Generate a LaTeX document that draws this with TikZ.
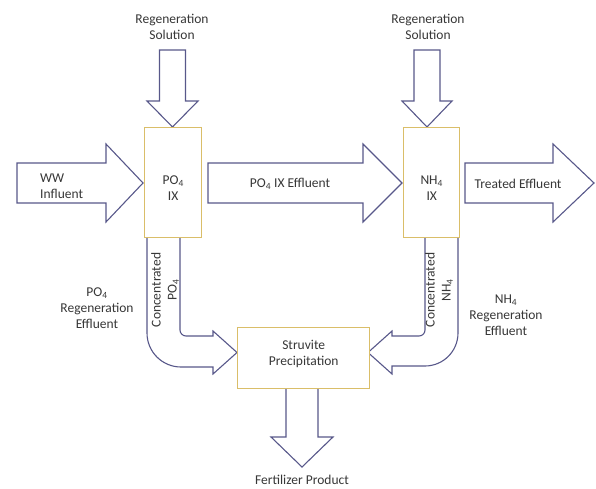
\documentclass[tikz,border=0pt]{standalone}
\usepackage{fontspec}
\setmainfont{Carlito}
\begin{document}
\begin{tikzpicture}[x=1pt,y=-1pt]
\definecolor{arrowc}{RGB}{88,88,138}
\definecolor{boxc}{RGB}{218,190,105}
\definecolor{txtc}{RGB}{55,55,55}
\tikzset{
  flow/.style={draw=arrowc,fill=white,line width=1.1pt,line join=miter},
  unit/.style={draw=boxc,fill=white,line width=1.4pt},
  lbl/.style={text=txtc,font=\fontsize{13.5}{16}\selectfont,align=center,inner sep=0pt},
}
\useasboundingbox (0,0) rectangle (596,489);
\fill[white] (0,0) rectangle (596,489);

% arrows
\path[flow] (159.5,50) -- (185.5,50) -- (185.5,101) -- (198,101) -- (172.5,127) -- (147,101) -- (159.5,101) -- cycle;
\path[flow] (414,50) -- (440,50) -- (440,101) -- (452,101) -- (427,127) -- (402,101) -- (414,101) -- cycle;
\path[flow] (17,163) -- (106,163) -- (106,144) -- (143,183) -- (106,222) -- (106,203) -- (17,203) -- cycle;
\path[flow] (208,163) -- (363,163) -- (363,144) -- (402,183) -- (363,222) -- (363,203) -- (208,203) -- cycle;
\path[flow] (465,163) -- (553,163) -- (553,144) -- (594,183) -- (553,222) -- (553,203) -- (465,203) -- cycle;
\path[flow] (147,237) -- (147,333) arc[start angle=180,end angle=90,radius=34] -- (213,367) -- (213,374) -- (237,352.5) -- (213,331) -- (213,336) -- (186,336) arc[start angle=90,end angle=180,radius=6] -- (180,237) -- cycle;
\path[flow] (458,237) -- (458,333) arc[start angle=0,end angle=90,radius=33] -- (392,366) -- (392,374) -- (368,352.5) -- (392,331) -- (392,336) -- (419,336) arc[start angle=90,end angle=0,radius=6] -- (425,237) -- cycle;
\path[flow] (286,388) -- (318,388) -- (318,437) -- (333,437) -- (302,467) -- (271,437) -- (286,437) -- cycle;

% units
\node[unit,minimum width=57pt,minimum height=110pt,anchor=north west] (po4) at (144,127) {};
\node[unit,minimum width=56pt,minimum height=110pt,anchor=north west] (nh4) at (403,127) {};
\node[unit,minimum width=132pt,minimum height=61pt,anchor=north west] (stru) at (237,327) {};

% labels
\node[lbl] (regl) at (172,27) {Regeneration\\Solution};
\node[lbl] (regr) at (428,27) {Regeneration\\Solution};
\node[lbl,align=left,anchor=west] (ww) at (40,186.5) {WW\\Influent};
\node[lbl] (po4t) at (po4.center) [yshift=-5pt] {PO\textsubscript{4}\\IX};
\node[lbl] (nh4t) at (nh4.center) [yshift=-5pt] {NH\textsubscript{4}\\IX};
\node[lbl] (po4e) at (290,184) {PO\textsubscript{4} IX Effluent};
\node[lbl] (treat) at (518,184) {Treated Effluent};
\node[lbl,rotate=90] (cpo) at (165,290) {Concentrated\\PO\textsubscript{4}};
\node[lbl,rotate=90] (cnh) at (439,290) {Concentrated\\NH\textsubscript{4}};
\node[lbl] (pore) at (97,308) {PO\textsubscript{4}\\Regeneration\\Effluent};
\node[lbl] (nhre) at (506,315) {NH\textsubscript{4}\\Regeneration\\Effluent};
\node[lbl] (strut) at (stru.center) [yshift=4pt] {Struvite\\Precipitation};
\node[lbl] (fert) at (302,480) {Fertilizer Product};
\end{tikzpicture}
\end{document}
